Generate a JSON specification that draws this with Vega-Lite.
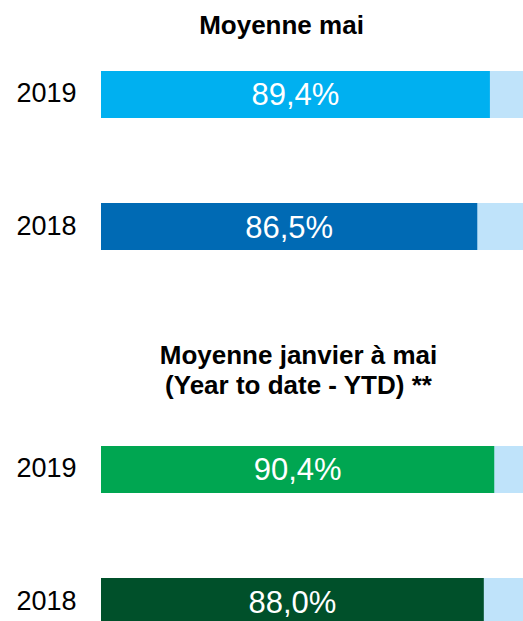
{
  "$schema": "https://vega.github.io/schema/vega-lite/v6.json",
  "background": "white",
  "padding": {"left": 15, "top": 13, "right": 0, "bottom": 0},
  "spacing": 92,
  "config": {"view": {"stroke": null}, "font": "Liberation Sans"},
  "data": {
    "values": [
      {"group": "mai", "year": "2019", "series": "mai 2019", "value": 0.894, "total": 1, "label": "89,4%"},
      {"group": "mai", "year": "2018", "series": "mai 2018", "value": 0.865, "total": 1, "label": "86,5%"},
      {"group": "ytd", "year": "2019", "series": "ytd 2019", "value": 0.904, "total": 1, "label": "90,4%"},
      {"group": "ytd", "year": "2018", "series": "ytd 2018", "value": 0.880, "total": 1, "label": "88,0%"}
    ]
  },
  "vconcat": [
    {
      "title": {"text": "Moyenne mai", "fontSize": 26, "fontWeight": "bold", "color": "black", "offset": 32, "dx": -31, "font": "Liberation Sans"},
      "width": 423,
      "height": 179,
      "transform": [{"filter": "datum.group === 'mai'"}],
      "encoding": {
        "y": {"field": "year", "type": "nominal", "sort": "descending",
          "scale": {"paddingInner": 0.644, "paddingOuter": 0},
          "axis": {"title": null, "domain": false, "ticks": false, "tickSize": 0, "labelPadding": 25, "labelFontSize": 27, "labelColor": "black", "labelFont": "Liberation Sans", "grid": false}}
      },
      "layer": [
        {"mark": {"type": "bar", "clip": true, "color": "#BFE3FA"},
         "encoding": {"x": {"field": "total", "type": "quantitative", "scale": {"domain": [0, 0.9724]}, "axis": null}}},
        {"mark": {"type": "bar"},
         "encoding": {"x": {"field": "value", "type": "quantitative", "scale": {"domain": [0, 0.9724]}, "axis": null},
           "color": {"field": "series", "type": "nominal", "legend": null,
             "scale": {"domain": ["mai 2019", "mai 2018", "ytd 2019", "ytd 2018"], "range": ["#00B0F0", "#006AB4", "#00A651", "#00502A"]}}}},
        {"mark": {"type": "text", "color": "white", "fontSize": 31, "font": "Liberation Sans", "baseline": "middle", "align": "center", "dy": 2},
         "encoding": {"x": {"field": "value", "type": "quantitative", "scale": {"domain": [0, 1.9448]}, "axis": null}, "text": {"field": "label"}}}
      ],
      "resolve": {"scale": {"x": "independent", "color": "shared"}}
    },
    {
      "title": {"text": ["Moyenne janvier à mai", "(Year to date - YTD) **"], "fontSize": 26, "lineHeight": 30, "fontWeight": "bold", "color": "black", "offset": 47, "dx": -14, "font": "Liberation Sans"},
      "width": 423,
      "height": 179,
      "transform": [{"filter": "datum.group === 'ytd'"}],
      "encoding": {
        "y": {"field": "year", "type": "nominal", "sort": "descending",
          "scale": {"paddingInner": 0.644, "paddingOuter": 0},
          "axis": {"title": null, "domain": false, "ticks": false, "tickSize": 0, "labelPadding": 25, "labelFontSize": 27, "labelColor": "black", "labelFont": "Liberation Sans", "grid": false}}
      },
      "layer": [
        {"mark": {"type": "bar", "clip": true, "color": "#BFE3FA"},
         "encoding": {"x": {"field": "total", "type": "quantitative", "scale": {"domain": [0, 0.9724]}, "axis": null}}},
        {"mark": {"type": "bar"},
         "encoding": {"x": {"field": "value", "type": "quantitative", "scale": {"domain": [0, 0.9724]}, "axis": null},
           "color": {"field": "series", "type": "nominal", "legend": null,
             "scale": {"domain": ["mai 2019", "mai 2018", "ytd 2019", "ytd 2018"], "range": ["#00B0F0", "#006AB4", "#00A651", "#00502A"]}}}},
        {"mark": {"type": "text", "color": "white", "fontSize": 31, "font": "Liberation Sans", "baseline": "middle", "align": "center", "dy": 2},
         "encoding": {"x": {"field": "value", "type": "quantitative", "scale": {"domain": [0, 1.9448]}, "axis": null}, "text": {"field": "label"}}}
      ],
      "resolve": {"scale": {"x": "independent", "color": "shared"}}
    }
  ]
}
